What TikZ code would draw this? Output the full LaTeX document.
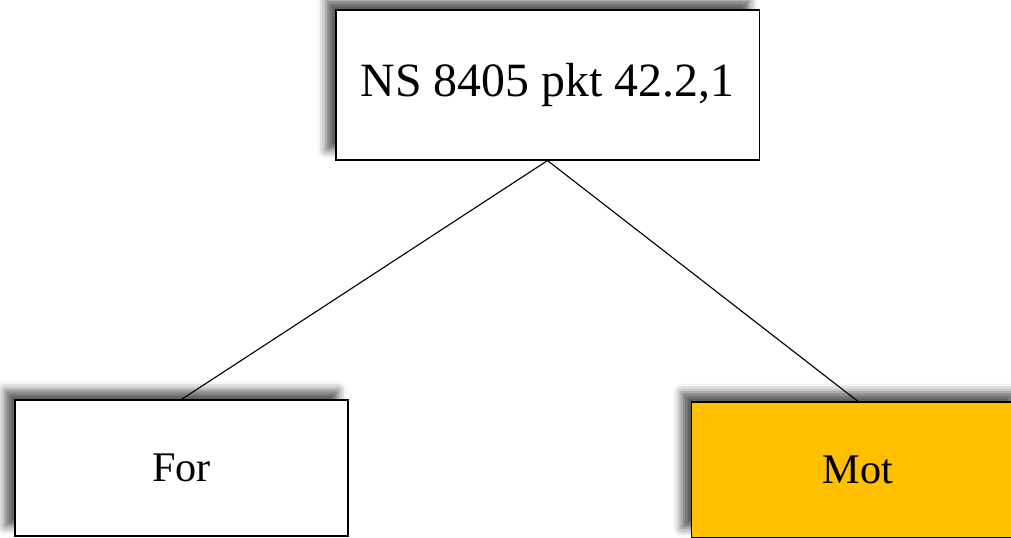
\documentclass[tikz,border=0pt]{standalone}
\usepackage{fontspec}
\setmainfont{Liberation Serif}
\usetikzlibrary{shadows.blur}
\definecolor{motorange}{HTML}{FFC000}

\begin{document}
\begin{tikzpicture}[x=0.025cm, y=-0.025cm,
  box/.style={draw, line width=0.8pt, fill=white, minimum width=8.325cm, minimum height=3.4cm,
    blur shadow={shadow xshift=-7pt, shadow yshift=7pt, shadow blur radius=6pt, shadow opacity=65}},
  link/.style={line width=0.8pt}]
\def\W{1011}
\def\H{538}

\useasboundingbox (0,0) rectangle (\W,\H);
\clip (0,0) rectangle (\W,\H);

\node[box, minimum width=10.575cm, minimum height=3.75cm, font=\fontsize{34}{40}\selectfont] (rule) at (547.5,85) {NS 8405 pkt 42.2,1};
\node[box, font=\fontsize{30}{36}\selectfont] (for) at (181.5,468) {For};
\node[box, fill=motorange, font=\fontsize{30}{36}\selectfont] (mot) at (858,470) {Mot};

\draw[link] (rule.south) -- (for.north);
\draw[link] (rule.south) -- (mot.north);
\end{tikzpicture}
\end{document}
